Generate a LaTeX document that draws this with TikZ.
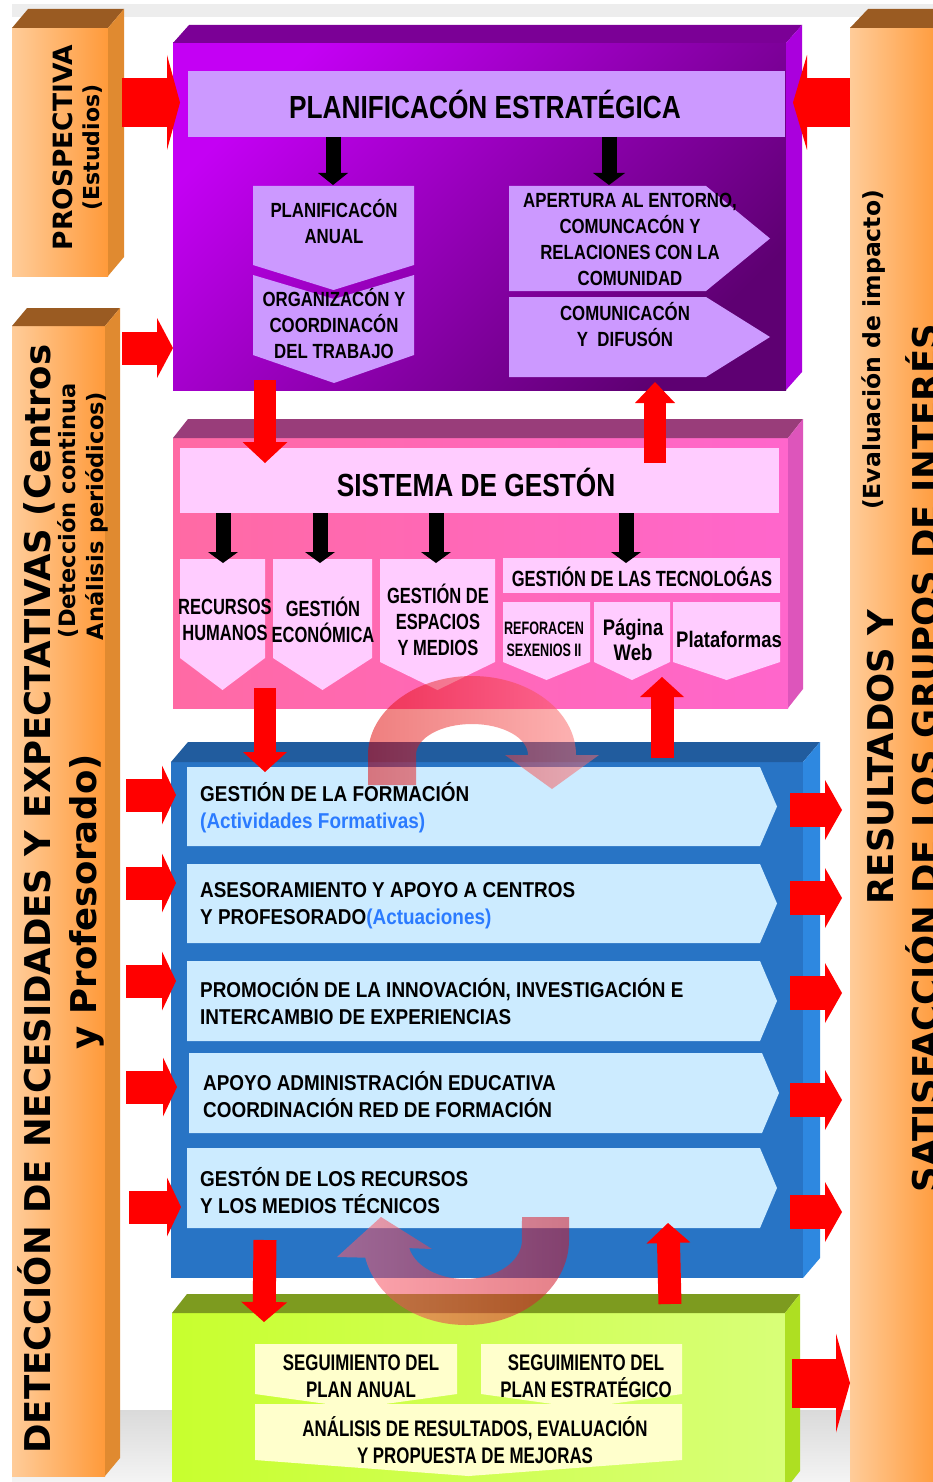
\documentclass[tikz,border=0pt]{standalone}
\usepackage{fontspec}
\setmainfont{Liberation Sans}
\newfontfamily\cndA[FakeStretch=0.82]{Liberation Sans}
\newfontfamily\cndB[FakeStretch=0.88]{Liberation Sans}
\newfontfamily\cndC[FakeStretch=0.75]{Liberation Sans}
\newfontfamily\cndD[FakeStretch=0.70]{Liberation Sans}
\newfontfamily\verd{DejaVu Sans}
\usetikzlibrary{calc}
\definecolor{rred}{HTML}{FF0000}
\definecolor{orL}{HTML}{FFCC99}
\definecolor{orR}{HTML}{FF9A3A}
\definecolor{orSide}{HTML}{E08A30}
\definecolor{orTop}{HTML}{9A5B22}
\definecolor{purL}{HTML}{C400F4}
\definecolor{purD}{HTML}{5E0072}
\definecolor{purTop}{HTML}{7B0096}
\definecolor{purSide}{HTML}{AA00DD}
\definecolor{lav}{HTML}{CC99FF}
\definecolor{pnkL}{HTML}{FF6AA4}
\definecolor{pnkR}{HTML}{FF66CC}
\definecolor{pnkTop}{HTML}{993D7A}
\definecolor{pnkSide}{HTML}{DD55BB}
\definecolor{pnkIn}{HTML}{FFCCFF}
\definecolor{bluF}{HTML}{2874C5}
\definecolor{bluTop}{HTML}{215C9E}
\definecolor{bluSide}{HTML}{2E88E0}
\definecolor{bluIn}{HTML}{CCEBFF}
\definecolor{bluTxt}{HTML}{2B7BFF}
\definecolor{grnL}{HTML}{C8FF2E}
\definecolor{grnR}{HTML}{D8FF78}
\definecolor{grnTop}{HTML}{7D9B1F}
\definecolor{grnSide}{HTML}{AEDF22}
\definecolor{yelIn}{HTML}{FFFFCC}
\definecolor{grayA}{HTML}{EDEDED}
\definecolor{flA}{HTML}{DADADA}
\definecolor{flB}{HTML}{F4F4F4}
\definecolor{cvA}{HTML}{E00000}
\definecolor{cvB}{HTML}{FF7070}
\definecolor{cvC}{HTML}{FF6070}
\definecolor{cvD}{HTML}{D01828}
\newcommand\fatarrow[6][rred]{%
  \path ($(#3)!#5pt!(#2)$) coordinate (fab);
  \draw[draw=#1, line width=#4pt] (#2) -- ($(fab)!1pt!(#3)$);
  \fill[#1] ($(fab)!#6pt!90:(#3)$) -- (#3) -- ($(fab)!#6pt!-90:(#3)$) -- cycle;}
\newcommand\blockfaces[5]{%
  \fill[#4] (#1.north west) -- ++(#2,#3) -- ($(#1.north east)+(#2,#3)$) -- (#1.north east) -- cycle;
  \fill[#5] (#1.north east) -- ++(#2,#3) -- ($(#1.south east)+(#2,#3)$) -- (#1.south east) -- cycle;}
\newcommand\dchev[6]{%
  \fill[#6] (#1,#2) -- (#3,#2) -- (#3,#4) -- ({(#1+#3)/2},#5) -- (#1,#4) -- cycle;}
\newcommand\rpent[6]{%
  \fill[#6] (#1,#2) -- (#3,#2) -- (#5,{(#2+#4)/2}) -- (#3,#4) -- (#1,#4) -- cycle;}
\begin{document}
\begin{tikzpicture}[x=1pt,y=-1pt,
  face/.style={inner sep=0pt,outer sep=0pt,draw=none},
  ttl/.style={font=\cndA\bfseries\fontsize{32}{36}\selectfont,inner sep=0pt},
  pu/.style={font=\cndA\bfseries\fontsize{20.5}{26}\selectfont,align=center,inner sep=0pt},
  pk/.style={font=\cndC\bfseries\fontsize{22}{26}\selectfont,align=center,inner sep=0pt},
  bl/.style={font=\cndB\bfseries\fontsize{21.5}{27}\selectfont,align=left,inner sep=0pt,anchor=west},
  gr/.style={font=\cndC\bfseries\fontsize{22.5}{27}\selectfont,align=center,inner sep=0pt},
  side/.style={rotate=90,anchor=base,inner sep=0pt},
  big/.style={side,font=\verd\bfseries\fontsize{35.5}{40}\selectfont}]
\useasboundingbox (0,0) rectangle (933,1482);
\fill[white] (0,0) rectangle (933,1482);
\fill[grayA] (12,4) rectangle (933,17);
\shade[top color=flA,bottom color=flB] (12,1410) rectangle (933,1482);
% side bars
\node[face,minimum width=96pt,minimum height=248pt,left color=orL,right color=orR] (prosp) at (60,152) {};
\blockfaces{prosp}{16}{-19}{orTop}{orSide}
\node[face,minimum width=93pt,minimum height=1150pt,left color=orL,right color=orR] (detec) at (58.5,901) {};
\blockfaces{detec}{15}{-18}{orTop}{orSide}
\node[face,minimum width=90pt,minimum height=1462pt,left color=orL,right color=orR] (resul) at (895,759) {};
\blockfaces{resul}{18}{-19}{orTop}{orSide}
% blocks
\node[face,minimum width=613pt,minimum height=347pt,top color=purL,bottom color=purD,shading angle=45] (plan) at (479.5,216.5) {};
\blockfaces{plan}{16}{-18}{purTop}{purSide}
\node[face,minimum width=615pt,minimum height=270pt,left color=pnkL,right color=pnkR] (sist) at (480.5,573) {};
\blockfaces{sist}{15}{-19}{pnkTop}{pnkSide}
\node[face,minimum width=632pt,minimum height=516pt,fill=bluF] (blue) at (487,1020) {};
\blockfaces{blue}{17}{-20}{bluTop}{bluSide}
\node[face,minimum width=613pt,minimum height=177pt,left color=grnL,right color=grnR] (green) at (478.5,1401.5) {};
\blockfaces{green}{15}{-19}{grnTop}{grnSide}
% purple inner
\node[face,fill=lav,minimum width=597pt,minimum height=66pt,anchor=north west] (pltitle) at (188,71) {};
\dchev{253}{186}{414}{265}{290}{lav}
\fill[lav] (253,275) -- (334,299) -- (414,275) -- (414,355) -- (334,383) -- (253,355) -- cycle;
\rpent{509}{186}{706}{291}{770}{lav}
\rpent{509}{297}{706}{377}{770}{lav}
\coordinate (b1s) at (333,137); \coordinate (b1e) at (333,185);
\coordinate (b2s) at (609,137); \coordinate (b2e) at (609,185);
\fatarrow[black]{b1s}{b1e}{15}{12}{15}
\fatarrow[black]{b2s}{b2e}{15}{12}{16}
% pink inner
\node[face,fill=pnkIn,minimum width=599pt,minimum height=65pt,anchor=north west] (sgtitle) at (180,448) {};
\dchev{180}{559}{265}{658}{690}{pnkIn}
\dchev{273}{559}{372}{658}{690}{pnkIn}
\dchev{380}{559}{495}{662}{690}{pnkIn}
\fill[pnkIn] (503,558) rectangle (780,593);
\dchev{503}{602}{590}{662}{680}{pnkIn}
\dchev{594}{602}{670}{662}{680}{pnkIn}
\dchev{673}{602}{780}{662}{680}{pnkIn}
\foreach \x/\n in {223/k1,320/k2,436/k3,626/k4}{
  \coordinate (\n s) at (\x,513); \coordinate (\n e) at (\x,563);
  \fatarrow[black]{\n s}{\n e}{15}{11}{15}}
% blue inner
\rpent{187}{767}{760}{846}{777}{bluIn}
\rpent{187}{864}{760}{943}{777}{bluIn}
\rpent{187}{961}{760}{1041}{777}{bluIn}
\rpent{189}{1053}{762}{1133}{779}{bluIn}
\rpent{187}{1148}{760}{1228}{777}{bluIn}
% green inner
\dchev{255}{1404}{682}{1460}{1476}{yelIn}
\dchev{255}{1344}{457}{1394}{1408}{yelIn}
\dchev{481}{1344}{682}{1394}{1408}{yelIn}
% red arrows
\coordinate (r1s) at (122,102.5); \coordinate (r1e) at (180,102.5);
\fatarrow{r1s}{r1e}{49}{13}{47.5}
\coordinate (r2s) at (122,348); \coordinate (r2e) at (173,348);
\fatarrow{r2s}{r2e}{33}{16}{30}
\coordinate (r3s) at (850,102.5); \coordinate (r3e) at (793,102.5);
\fatarrow{r3s}{r3e}{49}{14}{47.5}
\coordinate (r4s) at (265,380); \coordinate (r4e) at (265,463);
\fatarrow{r4s}{r4e}{22}{21}{22.5}
\coordinate (r5s) at (655,463); \coordinate (r5e) at (655,382);
\fatarrow{r5s}{r5e}{22}{21}{20}
\coordinate (r6s) at (265,688); \coordinate (r6e) at (265,772);
\fatarrow{r6s}{r6e}{22}{20}{22}
\coordinate (r7s) at (662,758); \coordinate (r7e) at (662,677);
\fatarrow{r7s}{r7e}{23}{20}{22}
\foreach \y/\n in {795/l1,883/l2,981/l3}{
  \coordinate (\n s) at (126,\y); \coordinate (\n e) at (176,\y);
  \fatarrow{\n s}{\n e}{33}{14}{29.5}}
\coordinate (l4s) at (126,1087); \coordinate (l4e) at (177,1087);
\fatarrow{l4s}{l4e}{33}{14}{29.5}
\coordinate (l5s) at (129,1207); \coordinate (l5e) at (181,1207);
\fatarrow{l5s}{l5e}{33}{14}{29.5}
\foreach \y/\n in {810/o1,898/o2,993/o3,1100/o4,1212/o5}{
  \coordinate (\n s) at (790,\y); \coordinate (\n e) at (842,\y);
  \fatarrow{\n s}{\n e}{34}{17}{30}}
\coordinate (r8s) at (265,1240); \coordinate (r8e) at (264,1322);
\fatarrow{r8s}{r8e}{23}{20}{23}
\coordinate (r9s) at (670,1304); \coordinate (r9e) at (668,1223);
\fatarrow{r9s}{r9e}{23}{20}{22}
\coordinate (r10s) at (792,1383); \coordinate (r10e) at (850,1383);
\fatarrow{r10s}{r10e}{49}{14}{49.5}
% curved transparent arrows
\begin{scope}[transparency group,opacity=0.5]
\shade[left color=cvA,right color=cvB] (368,785) -- (368,755)
  arc[start angle=180,end angle=0,x radius=104pt,y radius=79pt]
  -- (599,755) -- (552,789) -- (505,755) -- (528,755)
  arc[start angle=0,end angle=180,x radius=56pt,y radius=31pt]
  -- (416,785) -- cycle;
\end{scope}
\begin{scope}[transparency group,opacity=0.55]
\shade[left color=cvC,right color=cvD] (569,1217) -- (569,1240)
  arc[start angle=0,end angle=-168,x radius=103pt,y radius=85pt]
  -- (337,1257) -- (381,1217) -- (432,1249) -- (409.2,1248.1)
  arc[start angle=-168,end angle=0,x radius=57pt,y radius=39pt]
  -- (522,1217) -- cycle;
\end{scope}
% texts
\node[ttl] (pltxt) at (485,104) {PLANIFICACÓN ESTRATÉGICA};
\node[pu] (pa) at (334,221.5) {PLANIFICACÓN\\ANUAL};
\node[pu] (oc) at (334,324) {ORGANIZACÓN Y\\COORDINACÓN\\DEL TRABAJO};
\node[pu] (ae) at (630,239) {APERTURA AL ENTORNO,\\COMUNCACÓN Y\\RELACIONES CON LA\\COMUNIDAD};
\node[pu] (cd) at (625,324.5) {COMUNICACÓN\\Y \ DIFUSÓN};
\node[ttl] (sgtxt) at (476,482) {SISTEMA DE GESTÓN};
\node[pk] (rh) at (225,620) {RECURSOS\\HUMANOS};
\node[pk] (ge) at (323,620) {GESTIÓN\\ECONÓMICA};
\node[pk] (gem) at (438,619.5) {GESTIÓN DE\\ESPACIOS\\Y MEDIOS};
\node[pk] (gt) at (642,577) {GESTIÓN DE LAS TECNOLOǴAS};
\node[font=\cndD\bfseries\fontsize{18}{22}\selectfont,align=center,inner sep=0pt] (rs) at (544,639) {REFORACEN\\SEXENIOS II};
\node[font=\cndA\bfseries\fontsize{22.5}{25}\selectfont,align=center,inner sep=0pt] (pw) at (633,640) {Página\\Web};
\node[font=\cndA\bfseries\fontsize{22.5}{25}\selectfont,inner sep=0pt] (pf) at (729,639) {Plataformas};
\node[bl] (bx1) at (200,808) {GESTIÓN DE LA FORMACIÓN\\\textcolor{bluTxt}{(Actividades Formativas)}};
\node[bl] (bx2) at (200,906) {ASESORAMIENTO Y APOYO A CENTROS\\Y PROFESORADO\textcolor{bluTxt}{(Actuaciones)}};
\node[bl] (bx3) at (200,1002) {PROMOCIÓN DE LA INNOVACIÓN, INVESTIGACIÓN E\\INTERCAMBIO DE EXPERIENCIAS};
\node[bl] (bx4) at (203,1095) {APOYO ADMINISTRACIÓN EDUCATIVA\\COORDINACIÓN RED DE FORMACIÓN};
\node[bl] (bx5) at (200,1191) {GESTÓN DE LOS RECURSOS\\Y LOS MEDIOS TÉCNICOS};
\node[gr] (sa) at (361,1376) {SEGUIMIENTO DEL\\PLAN ANUAL};
\node[gr] (se) at (586,1376) {SEGUIMIENTO DEL\\PLAN ESTRATÉGICO};
\node[gr] (an) at (475,1440) {ANÁLISIS DE RESULTADOS, EVALUACIÓN\\Y PROPUESTA DE MEJORAS};
\node[side,font=\verd\bfseries\fontsize{26.5}{30}\selectfont] (prosptxt) at (72,147.5) {PROSPECTIVA};
\node[side,font=\verd\bfseries\fontsize{22}{26}\selectfont] (estud) at (99,147.5) {(Estudios)};
\node[big] (det1) at (50,899) {DETECCIÓN DE NECESIDADES Y EXPECTATIVAS (Centros};
\node[big] (det2) at (96,902) {y Profesorado)};
\node[side,font=\verd\bfseries\fontsize{22.5}{26}\selectfont] (det3) at (75,511) {(Detección continua};
\node[side,font=\verd\bfseries\fontsize{22.5}{26}\selectfont] (det4) at (103,516) {Análisis periódicos)};
\node[big] (res1) at (893,757) {RESULTADOS Y};
\node[big] (res2) at (938,758) {SATISFACCIÓN DE LOS GRUPOS DE INTERÉS};
\node[side,font=\verd\bfseries\fontsize{23.5}{26}\selectfont] (evalu) at (880,350) {(Evaluación de impacto)};
\end{tikzpicture}
\end{document}
